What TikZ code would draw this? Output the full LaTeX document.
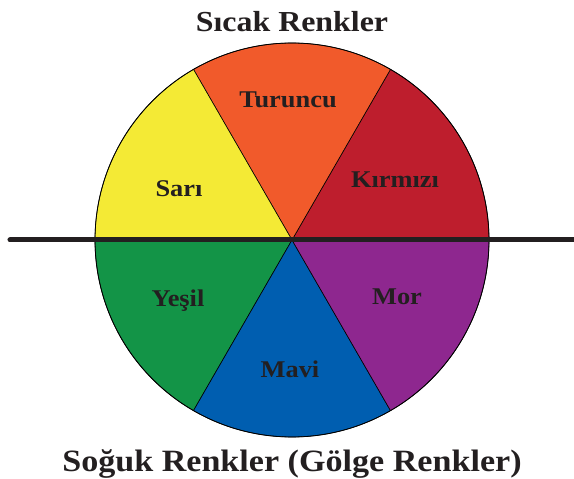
\documentclass[tikz,border=0pt]{standalone}
\usepackage{fontspec}
\setmainfont{Liberation Serif}
\newfontfamily\widefont[FakeStretch=1.1]{Liberation Serif}
\usepackage{xcolor}
\usetikzlibrary{positioning}

\definecolor{ink}{HTML}{231F20}
\definecolor{kirmizi}{HTML}{BE1E2D}
\definecolor{turuncu}{HTML}{F15A2B}
\definecolor{sari}{HTML}{F4EA35}
\definecolor{yesil}{HTML}{139447}
\definecolor{mavi}{HTML}{005EB0}
\definecolor{mor}{HTML}{8E278F}

\begin{document}
\begin{tikzpicture}[x=1pt, y=1pt,
  title/.style={anchor=base, inner sep=0pt, text=ink, font=\widefont\bfseries\fontsize{29}{34}\selectfont},
  colorname/.style={anchor=base, inner sep=0pt, text=ink, font=\widefont\bfseries\fontsize{24}{28}\selectfont}]

  \useasboundingbox (-292,-239) rectangle (282,240);

  % Define sectors
  \foreach \a/\c in {0/kirmizi, 60/turuncu, 120/sari, 180/yesil, 240/mavi, 300/mor}
    \filldraw[fill=\c, draw=black, line width=0.6pt]
      (0,0) -- (\a:197) arc[start angle=\a, end angle=\a+60, radius=197] -- cycle;
  \draw[line width=0.8pt] (0,0) circle[radius=197];

  % Dividing line
  \coordinate (lineL) at (-282,0);
  \coordinate (lineR) at (290,0);
  \draw[ink, line width=5pt, line cap=round] (lineL) -- (lineR);

  % Add labels inside sectors
  \node[colorname] (Sari) at (-113,43) {Sarı};
  \node[colorname] (Turuncu) at (-4,132) {Turuncu};
  \node[colorname] (Kirmizi) at (103,52) {Kırmızı};
  \node[colorname] (Yesil) at (-114,-67) {Yeşil};
  \node[colorname] (Mavi) at (-2,-138) {Mavi};
  \node[colorname] (Mor) at (105,-65) {Mor};

  % Titles
  \node[title] (warm) at (0,208) {Sıcak Renkler};
  \node[title, font=\widefont\bfseries\fontsize{31}{36}\selectfont] (cool) at (0,-232) {Soğuk Renkler (Gölge Renkler)};
\end{tikzpicture}
\end{document}
